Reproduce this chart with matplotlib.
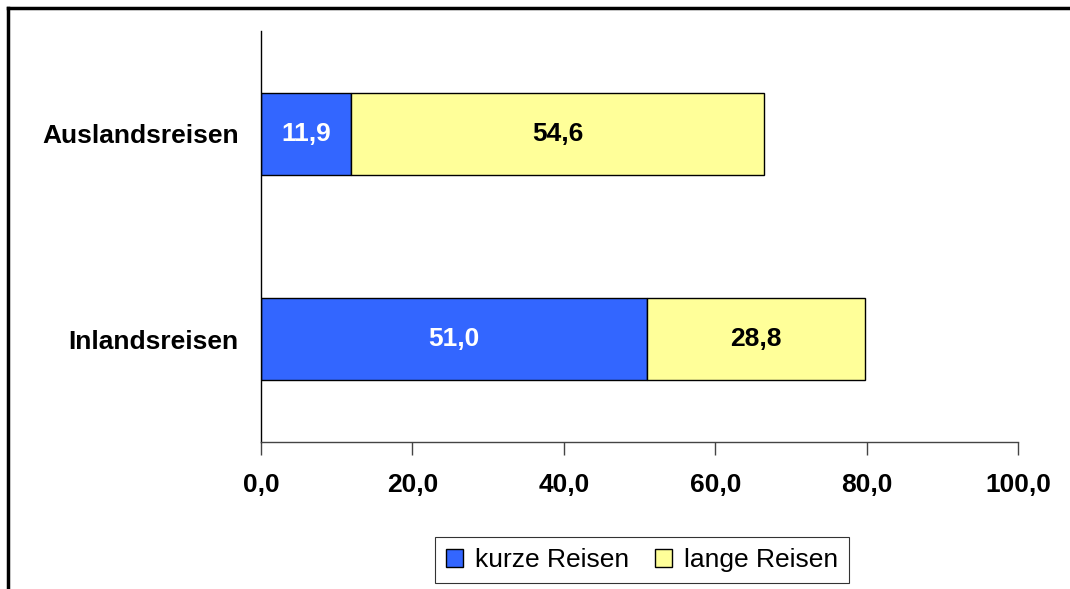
import matplotlib.pyplot as plt
from matplotlib.lines import Line2D

plt.rcParams['font.family'] = ['Liberation Sans', 'DejaVu Sans']

## Daten ##
kategorien = ["Inlandsreisen", "Auslandsreisen"]
kurze = [51.0, 11.9]
lange = [28.8, 54.6]
xticks = [0, 20, 40, 60, 80, 100]

blau = "#3366FF"
gelb = "#FFFF99"

fig = plt.figure(figsize=(10.70, 5.89), dpi=100)
ax = fig.add_axes([261/1070, 1 - 442/589, (1018 - 261)/1070, (442 - 31)/589])

y = range(len(kategorien))
b1 = ax.barh(y, kurze, height=0.4, color=blau, edgecolor="black", linewidth=1, label="kurze Reisen")
b2 = ax.barh(y, lange, left=kurze, height=0.4, color=gelb, edgecolor="black", linewidth=1, label="lange Reisen")

# Werte in den Balken
for i in y:
    ax.text(kurze[i] / 2, i, f"{kurze[i]:.1f}".replace(".", ","), ha="center", va="center",
            color="white", fontsize=19, fontweight="bold")
    ax.text(kurze[i] + lange[i] / 2, i, f"{lange[i]:.1f}".replace(".", ","), ha="center", va="center",
            color="black", fontsize=19, fontweight="bold")

ax.set_xlim(0, 100)
ax.set_ylim(-0.5, 1.5)
ax.set_xticks(xticks)
ax.set_xticklabels([f"{v:.1f}".replace(".", ",") for v in xticks], fontsize=19, fontweight="bold")
ax.set_yticks(list(y))
ax.set_yticklabels(kategorien, fontsize=19, fontweight="bold")
ax.tick_params(axis="x", direction="out", length=9, width=1, pad=13, color="#444444")
ax.tick_params(axis="y", length=0, pad=16)

ax.spines["top"].set_visible(False)
ax.spines["right"].set_visible(False)
ax.spines["left"].set_linewidth(1)
ax.spines["bottom"].set_linewidth(1)
ax.spines["bottom"].set_color("#444444")

# Legende
leg = fig.legend(handles=[b1, b2], loc="center", bbox_to_anchor=(642/1070, 1 - 560/589), ncol=2,
                 fontsize=19, frameon=True, fancybox=False, edgecolor="black",
                 handlelength=0.65, handleheight=0.65, handletextpad=0.45, columnspacing=1.0,
                 borderpad=0.4, borderaxespad=0)
leg.get_frame().set_linewidth(0.8)

# Rahmen
fig.add_artist(Line2D([8/1070, 8/1070], [0, 1 - 8/589], color="black", linewidth=2.5))
fig.add_artist(Line2D([8/1070, 1], [1 - 8/589, 1 - 8/589], color="black", linewidth=2.5))

fig.savefig("out.png", dpi=100)
